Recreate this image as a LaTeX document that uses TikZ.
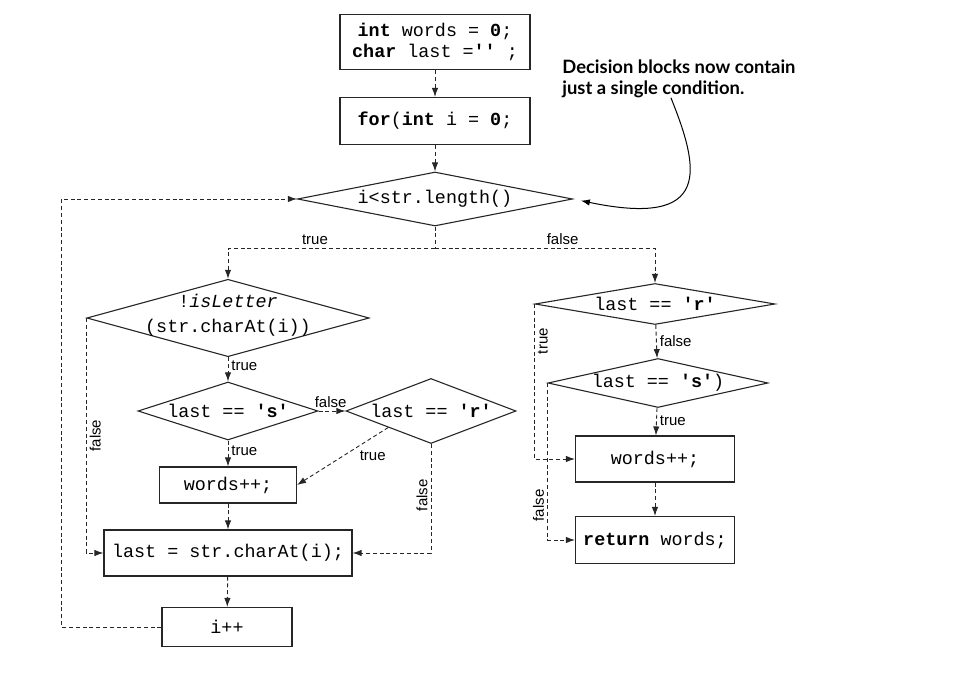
\documentclass[tikz,border=0pt]{standalone}
\usepackage{fontspec}
\setsansfont{Liberation Sans}
\newfontfamily\codefont{Liberation Mono}
\newfontfamily\notefont{Lato}
\usetikzlibrary{arrows.meta,shapes.geometric}

\begin{document}
\begin{tikzpicture}[
  x=.5pt, y=-.5pt,
  font=\codefont\fontsize{9.2}{10.5}\selectfont,
  block/.style={draw=black!85, line width=.55pt, inner sep=0pt, align=center},
  decision/.style={diamond, draw=black!85, line width=.55pt, inner sep=0pt, align=center},
  flow/.style={draw=black!85, line width=.45pt, dash pattern=on 2pt off 1.4pt,
    -{Latex[length=4.5pt,width=3.2pt]}},
  lbl/.style={font=\sffamily\fontsize{7.5}{9}\selectfont, inner sep=1.5pt},
  note/.style={font=\notefont\bfseries\fontsize{9.2}{10.5}\selectfont, align=left, inner sep=0pt}
]
  \useasboundingbox (0,0) rectangle (971,674);

  % Set-up and loop head
  \node[block, minimum width=95pt, minimum height=27.5pt] (init) at (435,42)
    {\textbf{int} words = \textbf{0};\\\textbf{char} last =\textbf{''} ;};
  \node[block, minimum width=95pt, minimum height=23.5pt] (start) at (435,121)
    {\textbf{for}(\textbf{int} i = \textbf{0};};
  \node[decision, aspect=5.1, minimum width=137.5pt, minimum height=27pt] (cond) at (435,199)
    {i<str.length()};

  % Left branch: inside the loop
  \node[decision, aspect=3.65, inner ysep=-5pt, text height=20.5pt, text depth=5.5pt,
    minimum width=140.5pt, minimum height=38.5pt,
    font=\codefont\fontsize{9.2}{13}\selectfont] (notletter) at (228,318)
    {!\textit{isLetter}\\(str.charAt(i))};
  \node[decision, aspect=3.1, minimum width=90pt, minimum height=29pt] (lasts) at (228,411)
    {last == \textbf{'s'}};
  \node[decision, aspect=2.6, minimum width=85pt, minimum height=32.5pt] (lastr) at (431,411)
    {last == \textbf{'r'}};
  \node[block, minimum width=68.5pt, minimum height=18pt] (count) at (228,485) {words++;};
  \node[block, minimum width=124pt, minimum height=23pt] (update) at (228,553)
    {last = str.charAt(i);};
  \node[block, minimum width=65pt, minimum height=19.5pt] (incr) at (227,627) {i++};

  % Right branch: after the loop
  \node[decision, aspect=5.85, minimum width=120pt, minimum height=20.5pt] (endr) at (655,304)
    {last == \textbf{'r'}};
  \node[decision, aspect=4.5, minimum width=110pt, minimum height=24.5pt] (ends) at (658,383)
    {last == \textbf{'s'})};
  \node[block, minimum width=79.5pt, minimum height=23pt] (endcount) at (655,459) {words++;};
  \node[block, minimum width=79.5pt, minimum height=23.5pt] (result) at (655,540)
    {\textbf{return} words;};

  % Callout
  \node[note, anchor=north west] (note) at (562,59)
    {Decision blocks now contain\\just a single condition.};

  \draw[flow] (init) -- (start);
  \draw[flow] (start) -- (cond);
  \draw[flow, -] (cond.south) -- ++(0,22) coordinate (split);
  \draw[flow] (split) -| node[lbl, above, pos=.29] {true} (notletter.north);
  \draw[flow] (split) -| node[lbl, above, pos=.29] {false} (endr.north);

  \draw[flow] (notletter) -- node[lbl, right, pos=.35] {true} (lasts);
  \draw[flow] (lasts.east) -- node[lbl, above, pos=.45] {false} (lastr.west);
  \draw[flow] (lasts) -- node[lbl, right, pos=.4] {true} (count);
  \draw[flow] (lastr.south west) -- node[lbl, below right, pos=.35] {true} (count.east);
  \draw[flow] (lastr.south) |- node[lbl, rotate=90, above, pos=.235] {false} (update.east);
  \draw[flow] (notletter.west) |- node[lbl, rotate=90, below, pos=.25] {false} (update.west);
  \draw[flow] (count) -- (update);
  \draw[flow] (update) -- (incr);
  \draw[flow] (incr.west) -- ++(-100,0) |- (cond.west);

  \draw[flow] (endr.west) |- node[lbl, rotate=90, below, pos=.12] {true} (endcount.west);
  \draw[flow] (endr) -- node[lbl, right] {false} (ends);
  \draw[flow] (ends) -- node[lbl, right, pos=.45] {true} (endcount);
  \draw[flow] (ends.west) |- node[lbl, rotate=90, above, pos=.39] {false} (result.west);
  \draw[flow] (endcount) -- (result);

  \draw[line width=.5pt, -{Latex[length=4.5pt,width=3.2pt]}, shorten >=4pt]
    ([xshift=-4pt]note.south) .. controls (700,170) and (712,228) .. (cond.east);
\end{tikzpicture}
\end{document}
